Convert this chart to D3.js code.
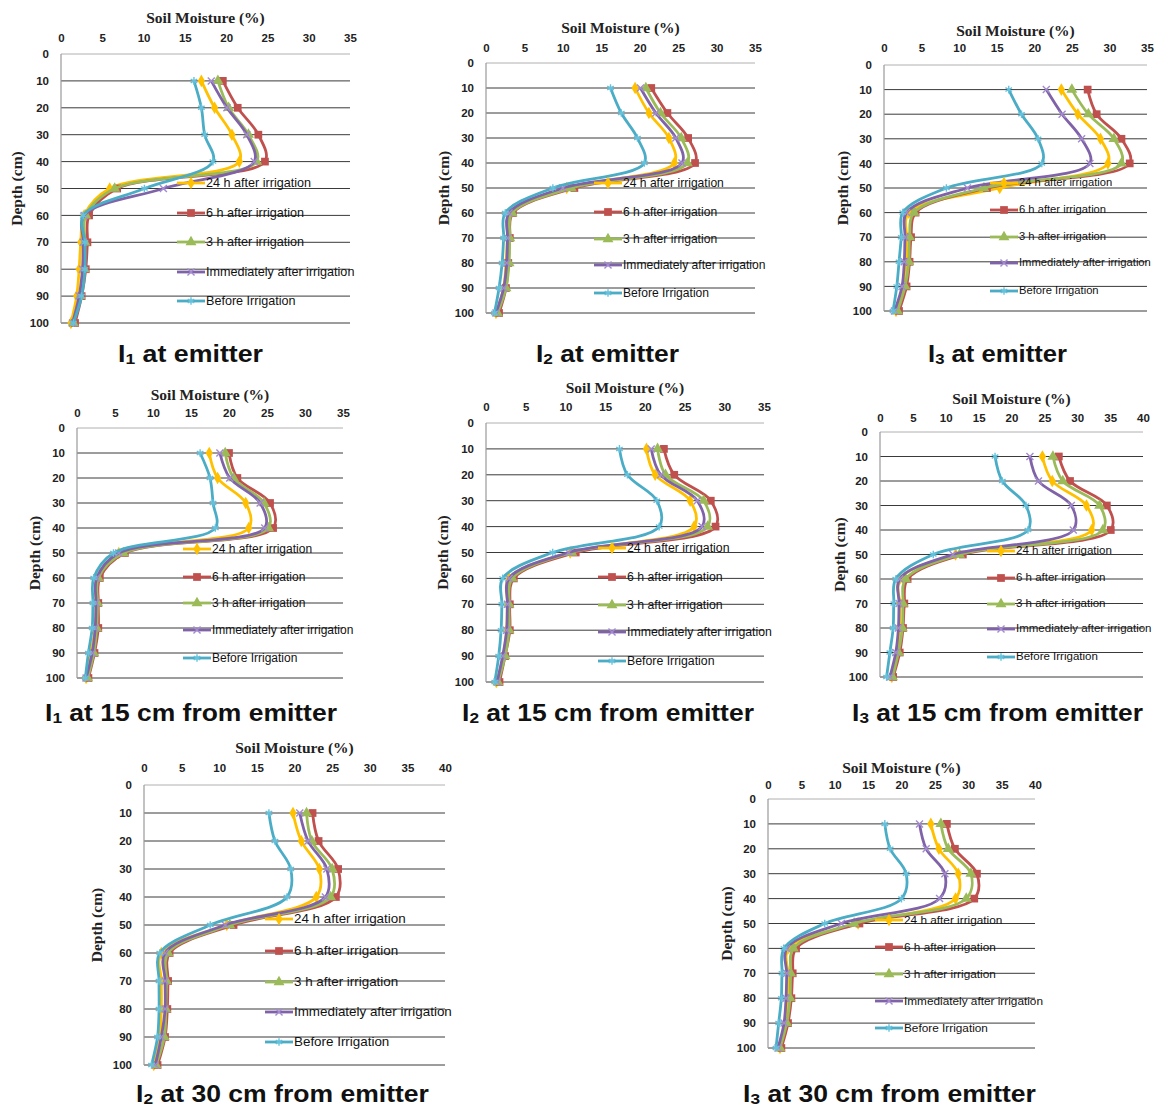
<!DOCTYPE html>
<html><head><meta charset="utf-8">
<script src="https://cdn.jsdelivr.net/npm/d3@7"></script>
<style>body{margin:0;background:#fff} svg{display:block}</style>
</head><body><svg id="c" width="1156" height="1108"></svg>
<script>
const depths = [10,20,30,40,50,60,70,80,90,100];
const seriesNames = ["24 h after irrigation","6 h after irrigation","3 h after irrigation","Immediately after irrigation","Before Irrigation"];
const seriesColors = ["#FFC000","#C0504D","#9BBB59","#7F62A8","#4BACC6"];
const markerColors = ["#FFC000","#C0504D","#9BBB59","#A48BD0","#66C2DC"];
const xTicks35 = [0,5,10,15,20,25,30,35];
const xTicks40 = [0,5,10,15,20,25,30,35,40];
const yTicks = [0,10,20,30,40,50,60,70,80,90,100];

// series order: 24h, 6h, 3h, Immediately, Before
const I1_emitter = [
  [17.0,18.6,20.7,21.6,5.9,2.8,2.4,2.2,1.9,1.2],
  [19.6,21.4,23.9,24.7,6.8,3.4,3.2,3.0,2.5,1.7],
  [19.0,20.3,22.7,23.7,6.5,3.0,2.9,2.8,2.3,1.5],
  [18.2,20.1,22.5,23.4,12.4,2.8,2.7,2.6,2.2,1.4],
  [16.1,17.0,17.4,18.4,10.1,2.7,2.9,2.9,2.5,1.5]
];
const I2_emitter = [
  [19.4,21.2,23.8,24.5,10.5,3.1,2.8,2.6,2.3,1.3],
  [21.5,23.6,26.3,27.2,11.5,3.5,3.1,2.9,2.6,1.7],
  [20.8,22.7,25.4,26.2,11.1,3.4,3.1,3.0,2.6,1.5],
  [20.1,22.1,24.7,25.5,10.0,3.0,2.8,2.7,2.3,1.3],
  [16.2,17.6,19.7,20.6,8.7,2.5,2.3,2.1,1.7,1.1]
];
const I3_emitter = [
  [23.6,25.8,28.8,29.8,15.4,3.3,3.0,3.0,2.7,1.6],
  [27.1,28.3,31.6,32.7,13.7,4.2,3.6,3.4,3.0,2.0],
  [25.0,27.2,30.6,31.6,13.3,4.0,3.4,3.3,2.8,1.8],
  [21.6,23.7,26.3,27.4,11.1,3.0,2.8,2.7,2.4,1.4],
  [16.6,18.3,20.5,21.0,8.3,2.5,2.3,2.0,1.7,1.2]
];
const I1_15cm = [
  [17.4,18.5,22.2,22.6,5.5,2.6,2.5,2.4,1.8,1.2],
  [20.0,21.1,25.4,25.8,6.3,3.0,2.8,2.8,2.3,1.5],
  [19.5,20.6,24.6,25.2,6.1,2.8,2.7,2.6,2.2,1.4],
  [18.8,20.1,24.1,24.7,5.5,2.6,2.5,2.4,2.0,1.2],
  [16.2,17.5,17.9,18.2,4.8,2.2,2.1,2.0,1.5,1.1]
];
const I2_15cm = [
  [20.2,21.3,25.7,26.2,10.6,2.9,2.7,2.6,2.2,1.3],
  [22.4,23.7,28.3,28.9,11.3,3.5,3.0,3.0,2.4,1.7],
  [21.6,22.6,27.4,27.9,10.8,3.3,2.9,2.9,2.4,1.5],
  [20.8,22.0,26.6,27.2,10.4,2.9,2.7,2.6,2.1,1.4],
  [16.8,17.8,21.5,21.8,8.4,2.1,2.0,1.9,1.6,1.1]
];
const I3_15cm = [
  [24.7,26.2,31.4,32.2,11.5,3.0,3.0,3.0,2.6,1.8],
  [27.2,28.9,34.5,35.1,12.6,4.2,3.7,3.5,3.0,2.0],
  [26.3,27.8,33.4,33.9,12.1,3.9,3.5,3.4,2.8,1.9],
  [22.8,24.1,29.1,29.4,11.1,3.0,2.9,2.8,2.4,1.5],
  [17.5,18.6,22.2,22.5,8.1,2.4,2.1,2.0,1.5,1.0]
];
const I2_30cm = [
  [19.8,20.9,23.3,22.9,11.0,2.3,2.3,2.3,2.1,1.3],
  [22.4,23.2,25.8,25.5,11.9,3.4,3.2,3.1,2.8,1.8],
  [21.6,22.3,25.0,24.8,11.4,3.2,3.0,2.9,2.7,1.6],
  [20.7,21.8,24.3,24.1,10.8,2.8,2.8,2.8,2.3,1.5],
  [16.6,17.4,19.5,19.0,8.8,2.1,2.0,2.0,1.8,1.0]
];
const I3_30cm = [
  [24.4,25.6,28.5,28.1,13.5,3.0,3.0,3.0,2.7,1.8],
  [26.8,28.0,31.3,30.9,13.7,4.2,3.7,3.5,3.0,2.0],
  [25.9,27.0,30.4,29.7,12.9,3.8,3.4,3.3,2.8,1.8],
  [22.7,23.7,26.5,25.7,11.0,2.8,2.8,2.7,2.4,1.5],
  [17.5,18.3,20.7,20.0,8.5,2.4,2.1,2.0,1.6,1.2]
];

const panels = [
 {data:I1_emitter, sub:"1", cap:" at emitter", ticks:xTicks35, x0:61, x1:350, y0:54, y1:323, tickY:38, titleY:18, ylabX:17, capX:190.5, capY:362, capW:145, legX:177, legRows:[183,213,242,272,301], legFont:12.6},
 {data:I2_emitter, sub:"2", cap:" at emitter", ticks:xTicks35, x0:486, x1:755, y0:63, y1:313, tickY:48, titleY:28, ylabX:444, capX:607.5, capY:362, capW:143, legX:594, legRows:[183,212,239,265,293], legFont:12.1},
 {data:I3_emitter, sub:"3", cap:" at emitter", ticks:xTicks35, x0:884, x1:1147, y0:65, y1:311, tickY:48, titleY:31, ylabX:843, capX:997.5, capY:362, capW:139, legX:990, legRows:[183,210,237,263,291], legFont:11.2},
 {data:I1_15cm, sub:"1", cap:" at 15 cm from emitter", ticks:xTicks35, x0:77, x1:343, y0:428, y1:678, tickY:413, titleY:395, ylabX:35, capX:191, capY:721, capW:292, legX:183, legRows:[549,577,603,630,658], legFont:12},
 {data:I2_15cm, sub:"2", cap:" at 15 cm from emitter", ticks:xTicks35, x0:486, x1:764, y0:423, y1:682, tickY:407, titleY:388, ylabX:443, capX:608, capY:721, capW:292, legX:598, legRows:[548,577,605,632,661], legFont:12.3},
 {data:I3_15cm, sub:"3", cap:" at 15 cm from emitter", ticks:xTicks40, x0:880, x1:1143, y0:432, y1:677, tickY:418, titleY:399, ylabX:840, capX:997.5, capY:721, capW:291, legX:987, legRows:[551,578,604,629,657], legFont:11.5},
 {data:I2_30cm, sub:"2", cap:" at 30 cm from emitter", ticks:xTicks40, x0:144, x1:445, y0:785, y1:1065, tickY:768, titleY:748, ylabX:97, capX:282.5, capY:1102, capW:293, legX:265, legRows:[919,951,982,1012,1042], legFont:13.4},
 {data:I3_30cm, sub:"3", cap:" at 30 cm from emitter", ticks:xTicks40, x0:768, x1:1035, y0:799, y1:1048, tickY:785, titleY:768, ylabX:727, capX:889.5, capY:1102, capW:293, legX:875, legRows:[920,947,974,1001,1028], legFont:11.8}
];

const svg = d3.select("#c");
const symbols = [d3.symbolDiamond, d3.symbolSquare, d3.symbolTriangle, d3.symbolX, d3.symbolAsterisk];
const symSizes = [46, 60, 52, 34, 40];
const strokeSym = [false,false,false,true,true];

function drawMarker(g, i, x, y) {
  const p = d3.symbol(symbols[i], symSizes[i])();
  const m = g.append("path").attr("d", p).attr("transform", `translate(${x},${y})`);
  if (strokeSym[i]) m.attr("fill","none").attr("stroke", markerColors[i]).attr("stroke-width",1.4);
  else m.attr("fill", markerColors[i]);
}

panels.forEach(P => {
  const xMax = P.ticks[P.ticks.length-1];
  const x = d3.scaleLinear().domain([0, xMax]).range([P.x0, P.x1]);
  const y = d3.scaleLinear().domain([0, 100]).range([P.y0, P.y1]);
  const g = svg.append("g");

  // top border (light gray) and gridlines
  g.append("line").attr("x1", P.x0).attr("x2", P.x1).attr("y1", y(0)).attr("y2", y(0))
    .attr("stroke", "#b0b0b0").attr("stroke-width", 1);
  g.append("g").selectAll("line").data(yTicks.filter(d => d > 0)).join("line")
    .attr("x1", P.x0).attr("x2", P.x1).attr("y1", d => y(d)).attr("y2", d => y(d))
    .attr("stroke", "#3a3a3a").attr("stroke-width", 1);
  // vertical axis line
  g.append("line").attr("x1", P.x0).attr("x2", P.x0).attr("y1", y(0)).attr("y2", y(100))
    .attr("stroke", "#999").attr("stroke-width", 1.2);

  // x axis (top)
  const xa = g.append("g").attr("transform", `translate(0,${P.y0})`)
    .call(d3.axisTop(x).tickValues(P.ticks).tickSize(0).tickPadding(P.y0 - P.tickY - 4).tickFormat(d3.format("d")));
  xa.select(".domain").remove();
  xa.selectAll("text").attr("font-family","Liberation Sans, Arial, sans-serif").attr("font-weight","bold").attr("font-size",11.5).attr("fill","#222");

  // y axis
  const ya = g.append("g").attr("transform", `translate(${P.x0},0)`)
    .call(d3.axisLeft(y).tickValues(yTicks).tickSize(0).tickPadding(12).tickFormat(d3.format("d")));
  ya.select(".domain").remove();
  ya.selectAll("text").attr("font-family","Liberation Sans, Arial, sans-serif").attr("font-weight","bold").attr("font-size",11.5).attr("fill","#222");

  // titles
  g.append("text").attr("x", (P.x0 + P.x1)/2).attr("y", P.titleY).attr("dy","0.35em")
    .attr("text-anchor","middle").attr("font-family","Liberation Serif, Times New Roman, serif")
    .attr("font-weight","bold").attr("font-size",15.5).attr("fill","#222").text("Soil Moisture (%)");
  g.append("text").attr("transform", `translate(${P.ylabX},${(P.y0+P.y1)/2}) rotate(-90)`).attr("dy","0.35em")
    .attr("text-anchor","middle").attr("font-family","Liberation Serif, Times New Roman, serif")
    .attr("font-weight","bold").attr("font-size",15.5).attr("fill","#222").text("Depth (cm)");

  // lines
  const line = d3.line().x(d => x(d[0])).y(d => y(d[1])).curve(d3.curveCatmullRom.alpha(0.5));
  P.data.forEach((vals, i) => {
    const pts = vals.map((v, k) => [v, depths[k]]);
    g.append("path").attr("d", line(pts)).attr("fill","none")
      .attr("stroke", seriesColors[i]).attr("stroke-width", 2.8).attr("stroke-linejoin","round");
    pts.forEach(p => drawMarker(g, i, x(p[0]), y(p[1])));
  });

  // legend
  seriesNames.forEach((name, i) => {
    const ly = P.legRows[i];
    g.append("line").attr("x1", P.legX).attr("x2", P.legX + 28).attr("y1", ly).attr("y2", ly)
      .attr("stroke", seriesColors[i]).attr("stroke-width", 2.8);
    drawMarker(g, i, P.legX + 14, ly);
    g.append("text").attr("x", P.legX + 29).attr("y", ly).attr("dy","0.3em")
      .attr("font-family","Liberation Sans, Arial, sans-serif").attr("font-size", P.legFont)
      .attr("fill","#111").text(name);
  });

  // caption, scaled horizontally to the reference width
  const cg = svg.append("g");
  const t = cg.append("text").attr("x", 0).attr("y", 0).attr("text-anchor","middle")
    .attr("font-family","Liberation Sans, Arial, sans-serif").attr("font-weight","bold")
    .attr("font-size",23).attr("fill","#111");
  t.append("tspan").text("I");
  t.append("tspan").attr("font-size",15).attr("dy",2).text(P.sub);
  t.append("tspan").attr("dy",-2).text(P.cap);
  const w = t.node().getComputedTextLength();
  cg.attr("transform", `translate(${P.capX},${P.capY}) scale(${P.capW / w},1)`);
});
</script></body></html>
